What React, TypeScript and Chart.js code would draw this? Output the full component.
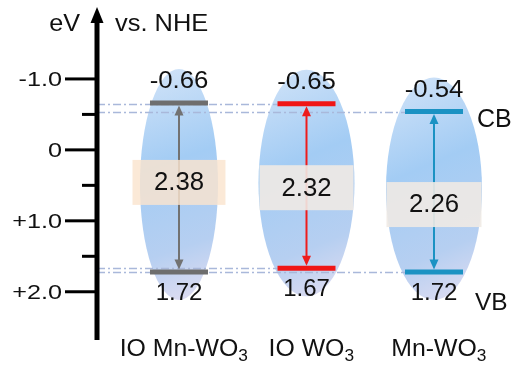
import React, { useEffect, useRef } from "react";
import { Chart, registerables } from "chart.js";

Chart.register(...registerables);

// ---- data ----
const categories = ["IO Mn-WO₃", "IO WO₃", "Mn-WO₃"];
const cbValues = [-0.66, -0.65, -0.54];
const vbValues = [1.72, 1.67, 1.72];
const majorTicks = [-1, 0, 1, 2];
const majorTickLabels = ["-1.0", "0", "+1.0", "+2.0"];
const minorTicks = [-0.5, 0.5, 1.5];
const bandLabels = ["CB", "VB"];
const axisTitleLeft = "eV";
const axisTitleRight = "vs. NHE";

// ---- styles ----
const levelColors = ["#6e6e6e", "#f01616", "#1b92c3"];
const arrowColors = ["#727272", "#ee1c1c", "#1b92c3"];
const ellipseHalfWidths = [39, 48, 48];
const boxHalfWidths = [46.5, 47, 47.5];
const boxFills = ["rgba(250,228,206,0.82)", "rgba(240,234,228,0.9)", "rgba(240,234,228,0.9)"];
const gapLabelFrac = [0.47, 0.51, 0.58];
const FONT = '"Liberation Sans", Arial, sans-serif';
const BAR_HALF = 29;

function stretchText(
  ctx: CanvasRenderingContext2D,
  text: string,
  x: number,
  y: number,
  size: number,
  align: CanvasTextAlign,
  sx: number,
  baseline: CanvasTextBaseline = "middle"
) {
  ctx.save();
  ctx.font = `${size}px ${FONT}`;
  ctx.textAlign = align;
  ctx.textBaseline = baseline;
  ctx.fillStyle = "#111";
  ctx.translate(x, y);
  ctx.scale(sx, 1);
  ctx.fillText(text, 0, 0);
  ctx.restore();
}

const SUBS = "₀₁₂₃₄₅₆₇₈₉";

function drawSubLabel(ctx: CanvasRenderingContext2D, label: string, cx: number, baseY: number) {
  const size = 23;
  const subSize = 16;
  const sx = 1.08;
  const runs: { t: string; sub: boolean }[] = [];
  for (const ch of label) {
    const idx = SUBS.indexOf(ch);
    const sub = idx >= 0;
    const c = sub ? String(idx) : ch;
    if (runs.length && runs[runs.length - 1].sub === sub) runs[runs.length - 1].t += c;
    else runs.push({ t: c, sub });
  }
  ctx.save();
  ctx.font = `${size}px ${FONT}`;
  const mainW = runs.filter((r) => !r.sub).reduce((a, r) => a + ctx.measureText(r.t).width, 0) * sx;
  let x = cx - mainW / 2;
  ctx.fillStyle = "#111";
  ctx.textBaseline = "alphabetic";
  ctx.textAlign = "left";
  for (const r of runs) {
    ctx.font = `${r.sub ? subSize : size}px ${FONT}`;
    const w = ctx.measureText(r.t).width * sx;
    ctx.save();
    ctx.translate(x, baseY + (r.sub ? 5 : 0));
    ctx.scale(sx, 1);
    ctx.fillText(r.t, 0, 0);
    ctx.restore();
    x += w;
  }
  ctx.restore();
}

const bandPlugin = {
  id: "bandPlugin",
  beforeDatasetsDraw(chart: any) {
    const ctx: CanvasRenderingContext2D = chart.ctx;
    const xs = chart.scales.x;
    const ys = chart.scales.y;
    const area = chart.chartArea;

    categories.forEach((_, i) => {
      const cx = xs.getPixelForValue(i);
      const cb = ys.getPixelForValue(cbValues[i]);
      const vb = ys.getPixelForValue(vbValues[i]);
      const top = cb - 34;
      const bottom = vb + 28;
      const hw = ellipseHalfWidths[i];
      const cy = (top + bottom) / 2;
      const g = ctx.createLinearGradient(cx - hw, top, cx + hw, bottom);
      g.addColorStop(0, "#d3e4f8");
      g.addColorStop(0.4, "#a3ccf4");
      g.addColorStop(0.75, "#b6cff1");
      g.addColorStop(1, "#e4def1");
      ctx.save();
      ctx.beginPath();
      ctx.ellipse(cx, cy, hw, (bottom - top) / 2, 0, 0, Math.PI * 2);
      ctx.fillStyle = g;
      ctx.fill();
      ctx.restore();
    });

    // dash-dot guide lines
    ctx.save();
    ctx.strokeStyle = "#a9b8da";
    ctx.lineWidth = 1.3;
    ctx.setLineDash([8, 3, 2, 3]);
    categories.forEach((_, i) => {
      if (i === 0) return;
      const endX = xs.getPixelForValue(i) - BAR_HALF;
      [cbValues[i], vbValues[i]].forEach((v) => {
        const y = Math.round(ys.getPixelForValue(v)) + 0.5;
        ctx.beginPath();
        ctx.moveTo(area.left, y);
        ctx.lineTo(endX, y);
        ctx.stroke();
      });
    });
    ctx.restore();

    // arrows
    categories.forEach((_, i) => {
      const cx = xs.getPixelForValue(i);
      const cb = ys.getPixelForValue(cbValues[i]) + 2.5;
      const vb = ys.getPixelForValue(vbValues[i]) - 2.5;
      const head = 10;
      const hw = 4.5;
      ctx.save();
      ctx.strokeStyle = arrowColors[i];
      ctx.fillStyle = arrowColors[i];
      ctx.lineWidth = 2;
      ctx.beginPath();
      ctx.moveTo(cx, cb + head - 1);
      ctx.lineTo(cx, vb - head + 1);
      ctx.stroke();
      ctx.beginPath();
      ctx.moveTo(cx, cb);
      ctx.lineTo(cx - hw, cb + head);
      ctx.lineTo(cx + hw, cb + head);
      ctx.closePath();
      ctx.fill();
      ctx.beginPath();
      ctx.moveTo(cx, vb);
      ctx.lineTo(cx - hw, vb - head);
      ctx.lineTo(cx + hw, vb - head);
      ctx.closePath();
      ctx.fill();
      ctx.restore();
    });

    // gap boxes + labels
    categories.forEach((_, i) => {
      const cx = xs.getPixelForValue(i);
      const cb = ys.getPixelForValue(cbValues[i]);
      const vb = ys.getPixelForValue(vbValues[i]);
      const cy = cb + (vb - cb) * gapLabelFrac[i];
      const bw = boxHalfWidths[i];
      ctx.save();
      ctx.fillStyle = boxFills[i];
      ctx.fillRect(cx - bw, cy - 22.5, bw * 2, 45);
      ctx.restore();
      const gap = (vbValues[i] - cbValues[i]).toFixed(2);
      stretchText(ctx, gap, cx, cy + 1, 25, "center", 1.03);
    });
  },
  afterDatasetsDraw(chart: any) {
    const ctx: CanvasRenderingContext2D = chart.ctx;
    const xs = chart.scales.x;
    const ys = chart.scales.y;
    const area = chart.chartArea;
    const ax = area.left;

    // axis line + arrow
    ctx.save();
    ctx.strokeStyle = "#000";
    ctx.fillStyle = "#000";
    ctx.lineWidth = 5;
    ctx.beginPath();
    ctx.moveTo(ax, area.bottom);
    ctx.lineTo(ax, area.top + 12);
    ctx.stroke();
    ctx.beginPath();
    ctx.moveTo(ax, area.top - 1);
    ctx.lineTo(ax - 6.5, area.top + 15);
    ctx.lineTo(ax + 6.5, area.top + 15);
    ctx.closePath();
    ctx.fill();
    ctx.lineWidth = 3;
    majorTicks.forEach((v) => {
      const y = ys.getPixelForValue(v);
      ctx.beginPath();
      ctx.moveTo(ax - 32, y);
      ctx.lineTo(ax, y);
      ctx.stroke();
    });
    minorTicks.forEach((v) => {
      const y = ys.getPixelForValue(v);
      ctx.beginPath();
      ctx.moveTo(ax - 15, y);
      ctx.lineTo(ax, y);
      ctx.stroke();
    });
    ctx.restore();

    majorTicks.forEach((v, i) => {
      stretchText(ctx, majorTickLabels[i], ax - 35, ys.getPixelForValue(v) + 1, 21, "right", 1.2);
    });

    stretchText(ctx, axisTitleLeft, ax - 17, area.top + 22.5, 24, "right", 1.05, "alphabetic");
    stretchText(ctx, axisTitleRight, ax + 18, area.top + 22.5, 24, "left", 1.06, "alphabetic");

    // level values
    categories.forEach((_, i) => {
      const cx = xs.getPixelForValue(i);
      const cb = ys.getPixelForValue(cbValues[i]);
      const vb = ys.getPixelForValue(vbValues[i]);
      stretchText(ctx, cbValues[i].toFixed(2), cx, cb - 21, 23, "center", 1.12);
      stretchText(ctx, vbValues[i].toFixed(2), cx, vb + 21, 24, "center", 1.0);
      drawSubLabel(ctx, categories[i], cx, area.bottom + 16);
    });

    const last = categories.length - 1;
    const lx = xs.getPixelForValue(last) + BAR_HALF + 14;
    stretchText(ctx, bandLabels[0], lx, ys.getPixelForValue(cbValues[last]) + 9, 25, "left", 1.0);
    stretchText(ctx, bandLabels[1], lx - 2, ys.getPixelForValue(vbValues[last]) + 31, 24, "left", 1.02);
  },
};

export default function App() {
  const ref = useRef<HTMLCanvasElement | null>(null);
  useEffect(() => {
    if (!ref.current) return;
    const mk = (vals: number[], label: string) => ({
      label,
      data: vals.map((v, i) => ({ x: i, y: v })),
      pointStyle: "line",
      pointRadius: BAR_HALF,
      pointHoverRadius: BAR_HALF,
      pointBorderWidth: 5,
      pointHoverBorderWidth: 5,
      pointBorderColor: levelColors,
      pointBackgroundColor: levelColors,
      showLine: false,
      clip: false,
    });
    const chart = new Chart(ref.current, {
      type: "scatter",
      data: { datasets: [mk(cbValues, bandLabels[0]), mk(vbValues, bandLabels[1])] as any },
      options: {
        responsive: false,
        animation: false,
        events: [],
        layout: { autoPadding: false, padding: { left: 97, right: 6, top: 8, bottom: 31 } },
        plugins: { legend: { display: false }, tooltip: { enabled: false } },
        scales: {
          x: { type: "linear", display: false, min: -0.643, max: 2.596 },
          y: { type: "linear", display: false, reverse: true, min: -2, max: 2.68 },
        },
      },
      plugins: [bandPlugin as any],
    });
    return () => chart.destroy();
  }, []);
  return (
    <div style={{ position: "fixed", left: 0, top: 0, width: 516, height: 371, background: "#fff" }}>
      <canvas ref={ref} width={516} height={371} style={{ display: "block" }} />
    </div>
  );
}
